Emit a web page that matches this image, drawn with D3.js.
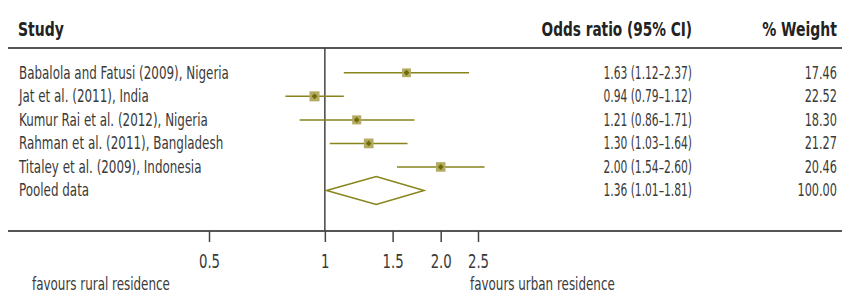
<!DOCTYPE html>
<html>
<head>
<meta charset="utf-8">
<script src="https://cdn.jsdelivr.net/npm/d3@7"></script>
<style>
  body { margin: 0; background: #fff; }
  svg text { font-family: "DejaVu Sans Condensed", "Liberation Sans Narrow", sans-serif; fill: #3a3a3a; }
  .head { font-weight: bold; fill: #222; }
</style>
</head>
<body>
<div id="chart"></div>
<script>
const WIDTH = 842;
const HEIGHT = 294;

// data
const studies = ["Babalola and Fatusi (2009), Nigeria", "Jat et al. (2011), India",
  "Kumur Rai et al. (2012), Nigeria", "Rahman et al. (2011), Bangladesh",
  "Titaley et al. (2009), Indonesia", "Pooled data"];
const oddsRatio = [1.63, 0.94, 1.21, 1.30, 2.00, 1.36];
const ciLow = [1.12, 0.79, 0.86, 1.03, 1.54, 1.01];
const ciHigh = [2.37, 1.12, 1.71, 1.64, 2.60, 1.81];
const weights = [17.46, 22.52, 18.30, 21.27, 20.46, 100.00];
const tickValues = [0.5, 1, 1.5, 2.0, 2.5];
const tickLabels = ["0.5", "1", "1.5", "2.0", "2.5"];

let colors = { line: "#86841a", box: "#b3ab63", dot: "#6e6c06", axis: "#444" };

let svg = d3.select("#chart").append("svg")
  .attr("width", WIDTH)
  .attr("height", HEIGHT);

// squeeze text horizontally, the original uses a condensed face
function condense(sel, f) {
  sel.each(function() {
    let t = d3.select(this);
    let x = +t.attr("x") || 0;
    t.attr("x", 0).attr("transform", "translate(" + x + ",0) scale(" + f + ",1)");
  });
  return sel;
}

let xscale = d3.scaleLog()
  .domain([0.5, 2.5])
  .range([209, 478]);

let yscale = d3.scalePoint()
  .domain(studies)
  .range([72.8, 190.5]);

let boxscale = d3.scaleSqrt()
  .domain([0, d3.max(weights.slice(0, 5))])
  .range([0, 10]);

const topY = 48, bottomY = 231;
const rightX = 837;

/* headers */
condense(svg.append("text").attr("class", "head").attr("x", 18).attr("y", 36)
  .style("font-size", "19px").text("Study"), 0.82);
condense(svg.append("text").attr("class", "head").attr("x", 692).attr("y", 36)
  .attr("text-anchor", "end").style("font-size", "19px").text("Odds ratio (95% CI)"), 0.8);
condense(svg.append("text").attr("class", "head").attr("x", rightX).attr("y", 36)
  .attr("text-anchor", "end").style("font-size", "19px").text("% Weight"), 0.82);

/* rules */
svg.append("line").attr("x1", 8).attr("x2", WIDTH).attr("y1", topY).attr("y2", topY)
  .attr("stroke", "#555").attr("stroke-width", 2);
svg.append("line").attr("x1", 8).attr("x2", WIDTH).attr("y1", bottomY).attr("y2", bottomY)
  .attr("stroke", "#555").attr("stroke-width", 2);
svg.append("line").attr("x1", xscale(1)).attr("x2", xscale(1)).attr("y1", topY).attr("y2", bottomY)
  .attr("stroke", colors.axis).attr("stroke-width", 1.5);

/* axis */
let x_axis = d3.axisBottom(xscale)
  .tickValues(tickValues)
  .tickFormat((d, i) => tickLabels[i])
  .tickSize(11)
  .tickPadding(12);
let gx = svg.append("g")
  .attr("transform", "translate(0," + bottomY + ")")
  .call(x_axis);
gx.select(".domain").remove();
gx.selectAll(".tick line").attr("stroke", colors.axis).attr("stroke-width", 1.5);
condense(gx.selectAll(".tick text").style("font-size", "20px").style("font-family", null)
  .attr("fill", null), 0.74);

condense(svg.append("text").attr("x", 32).attr("y", 290).style("font-size", "17px").text("favours rural residence"), 0.78);
condense(svg.append("text").attr("x", 470).attr("y", 290).style("font-size", "17px").text("favours urban residence"), 0.78);

/* rows */
studies.forEach((s, i) => {
  let y = yscale(s);
  condense(svg.append("text").attr("x", 19).attr("y", y + 6).style("font-size", "17px").text(s), 0.78);
  condense(svg.append("text").attr("x", 692).attr("y", y + 6).attr("text-anchor", "end")
    .style("font-size", "17px")
    .text(oddsRatio[i].toFixed(2) + " (" + ciLow[i].toFixed(2) + "\u2013" + ciHigh[i].toFixed(2) + ")"), 0.7);
  condense(svg.append("text").attr("x", rightX).attr("y", y + 6).attr("text-anchor", "end")
    .style("font-size", "17px").text(weights[i].toFixed(2)), 0.74);

  if (s === "Pooled data") {
    let x0 = xscale(ciLow[i]), x1 = xscale(ciHigh[i]), xm = xscale(oddsRatio[i]);
    svg.append("path")
      .attr("d", "M" + x0 + "," + y + "L" + xm + "," + (y - 14) + "L" + x1 + "," + y + "L" + xm + "," + (y + 14) + "Z")
      .attr("fill", "none").attr("stroke", colors.line).attr("stroke-width", 1.5);
    return;
  }
  svg.append("line")
    .attr("x1", xscale(ciLow[i])).attr("x2", xscale(ciHigh[i]))
    .attr("y1", y).attr("y2", y)
    .attr("stroke", colors.line).attr("stroke-width", 1.5);
  let b = boxscale(weights[i]);
  svg.append("rect")
    .attr("x", xscale(oddsRatio[i]) - b / 2).attr("y", y - b / 2)
    .attr("width", b).attr("height", b)
    .attr("fill", colors.box);
  svg.append("path")
    .attr("d", d3.symbol(d3.symbolDiamond2, 22)())
    .attr("transform", "translate(" + xscale(oddsRatio[i]) + "," + y + ")")
    .attr("fill", colors.dot);
});
</script>
</body>
</html>
